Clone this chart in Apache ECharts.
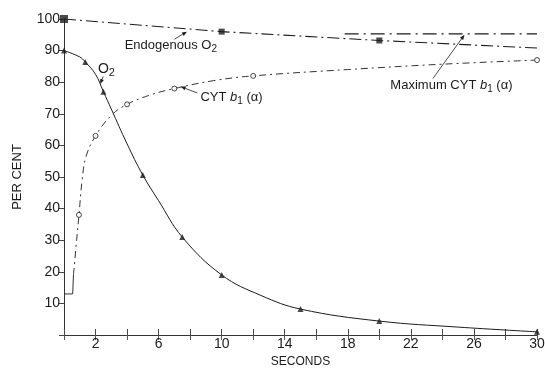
<!DOCTYPE html>
<html><head><meta charset="utf-8">
<script src="https://cdn.jsdelivr.net/npm/echarts@6/dist/echarts.min.js"></script>
<style>html,body{margin:0;padding:0;background:#fff}#c{width:545px;height:369px}</style>
</head><body><div id="c"></div>
<script>
// ---- data ----
const xTicks = [2, 6, 10, 14, 18, 22, 26, 30];
const yTicks = [10, 20, 30, 40, 50, 60, 70, 80, 90, 100];
// O2 (filled triangles) measured points
const o2Points = [[0, 90], [1.35, 86.4], [2.5, 77], [5, 50.6], [7.5, 31], [10, 19], [15, 8.2], [20, 4.4], [30, 1]];
// O2 curve
const o2Curve = [[0, 90], [1, 88], [1.35, 86.4], [2, 82.5], [2.5, 77], [3, 71.5], [4, 60.5], [5, 50.6], [6, 42.5], [7.5, 31], [10, 19], [12.5, 12.5], [15, 8.2], [20, 4.4], [25, 2.5], [30, 1]];
// CYT b1(alpha) (open circles)
const cytPoints = [[0.95, 38], [2, 63], [4, 73], [7, 78], [12, 82], [30, 87]];
const cytStep = [[0, 13], [0.55, 13], [0.6, 19]];
const cytCurve = [[0.6, 19], [0.8, 30], [0.95, 38], [1.15, 49], [1.4, 56.5], [2, 63], [3, 69.5], [4, 73], [5.5, 76], [7, 78], [9.5, 80.5], [12, 82], [18, 84], [24, 85.7], [30, 87]];
// Endogenous O2 (filled squares)
const endoPoints = [[0, 100], [10, 96], [20, 93.2]];
const endoCurve = [[0, 100], [10, 96], [20, 93.2], [30, 90.8]];
// Maximum CYT b1(alpha)
const maxCyt = [[17.8, 95.3], [30, 95.3]];

const ink = '#1c1c1c';
const font = 'Liberation Sans';
const chart = echarts.init(document.getElementById('c'));
const axisCommon = {type: 'value', min: 0, max: 30, interval: 2};
chart.setOption({
  animation: false,
  backgroundColor: '#fff',
  textStyle: {fontFamily: font, color: ink},
  grid: {left: 64, right: 8, top: 19, bottom: 34, containLabel: false, outerBoundsMode: 'none'},
  xAxis: [{
    ...axisCommon, position: 'bottom',
    name: 'SECONDS', nameLocation: 'middle', nameGap: 21,
    nameTextStyle: {fontSize: 12, color: ink, fontFamily: font},
    axisLine: {lineStyle: {color: '#777', width: 1}},
    axisTick: {inside: true, length: 6, lineStyle: {color: '#444'}},
    axisLabel: {fontSize: 14, color: ink, margin: 2,
      formatter: v => xTicks.includes(v) ? String(v) : ''},
    splitLine: {show: false}
  }, {
    ...axisCommon, position: 'top',
    axisLine: {lineStyle: {color: '#333', width: 1}},
    axisTick: {inside: true, length: 5, lineStyle: {color: '#555'}},
    axisLabel: {show: false}, splitLine: {show: false}
  }],
  yAxis: [{
    type: 'value', min: 0, max: 100, interval: 10, position: 'left',
    name: 'PER CENT', nameLocation: 'middle', nameGap: 40, nameRotate: 90,
    nameTextStyle: {fontSize: 13, color: ink, fontFamily: font},
    axisLine: {show: true, lineStyle: {color: '#333', width: 1}},
    axisTick: {show: true, inside: false, length: 3, lineStyle: {color: '#333'}},
    axisLabel: {fontSize: 14, color: ink, margin: 4,
      formatter: v => yTicks.includes(v) ? String(v) : ''},
    splitLine: {show: false}
  }, {
    type: 'value', min: 0, max: 100, interval: 10, position: 'right',
    axisLine: {show: true, lineStyle: {color: '#333', width: 1}},
    axisTick: {show: true, inside: true, length: 5, lineStyle: {color: '#444'}},
    axisLabel: {show: false}, splitLine: {show: false}
  }],
  series: [
    {type: 'line', data: o2Curve, smooth: 0.4, showSymbol: false,
      lineStyle: {color: ink, width: 1}, z: 3},
    {type: 'scatter', data: o2Points, symbol: 'triangle', symbolSize: 6,
      itemStyle: {color: ink}, z: 4},
    {type: 'line', data: cytStep, showSymbol: false,
      lineStyle: {color: '#333', width: 1}, z: 3},
    {type: 'line', data: cytCurve, smooth: 0.4, showSymbol: false,
      lineStyle: {color: '#333', width: 1, type: [7, 4, 2, 4]}, z: 3},
    {type: 'scatter', data: cytPoints, symbol: 'circle', symbolSize: 5,
      itemStyle: {color: '#fff', borderColor: ink, borderWidth: 1}, z: 4},
    {type: 'line', data: endoCurve, showSymbol: false,
      lineStyle: {color: ink, width: 1.1, type: [12, 4, 2, 4]}, z: 3},
    {type: 'scatter', data: endoPoints, symbol: 'rect',
      symbolSize: (v, p) => p.dataIndex === 0 ? 8 : 6,
      itemStyle: {color: ink}, z: 4},
    {type: 'line', data: maxCyt, showSymbol: false,
      lineStyle: {color: ink, width: 1.1, type: [14, 5, 2, 5]}, z: 3}
  ]
});

// ---- annotations placed by data coordinates ----
const P = d => chart.convertToPixel({gridIndex: 0}, d);
function mkRich(fs) {
  return {
    sub: {fontSize: Math.round(fs * 0.75), padding: [8, 0, 0, 0], fontFamily: font, fill: ink},
    it: {fontSize: fs, fontStyle: 'italic', fontFamily: font, fill: ink}
  };
}
function label(text, at, fs) {
  fs = fs || 13;
  const p = P(at);
  return {type: 'text', x: p[0], y: p[1], z: 10,
    style: {text, fontSize: fs, fontFamily: font, fill: ink, verticalAlign: 'middle', rich: mkRich(fs)}};
}
function arrow(from, to) {
  const a = P(from), b = P(to);
  const dx = b[0] - a[0], dy = b[1] - a[1], L = Math.hypot(dx, dy);
  const ux = dx / L, uy = dy / L, h = 5, w = 2;
  const bx = b[0] - ux * h, by = b[1] - uy * h;
  return [
    {type: 'line', z: 10, shape: {x1: a[0], y1: a[1], x2: bx, y2: by}, style: {stroke: ink, lineWidth: 0.8}},
    {type: 'polygon', z: 10, shape: {points: [[b[0], b[1]], [bx - uy * w, by + ux * w], [bx + uy * w, by - ux * w]]}, style: {fill: ink}}
  ];
}
chart.setOption({graphic: [
  label('Endogenous O{sub|2}', [3.85, 91.6]),
  ...arrow([7.0, 93.6], [7.8, 96.0]),
  label('O{sub|2}', [2.15, 84.2], 14),
  ...arrow([2.48, 81.8], [2.3, 79.4]),
  label('CYT {it|b}{sub|1} (α)', [8.65, 75.3]),
  ...arrow([8.45, 76.6], [7.4, 78.6]),
  label('Maximum CYT {it|b}{sub|1} (α)', [20.7, 79]),
  ...arrow([23.4, 81.2], [25.4, 95.0])
]});
</script></body></html>
